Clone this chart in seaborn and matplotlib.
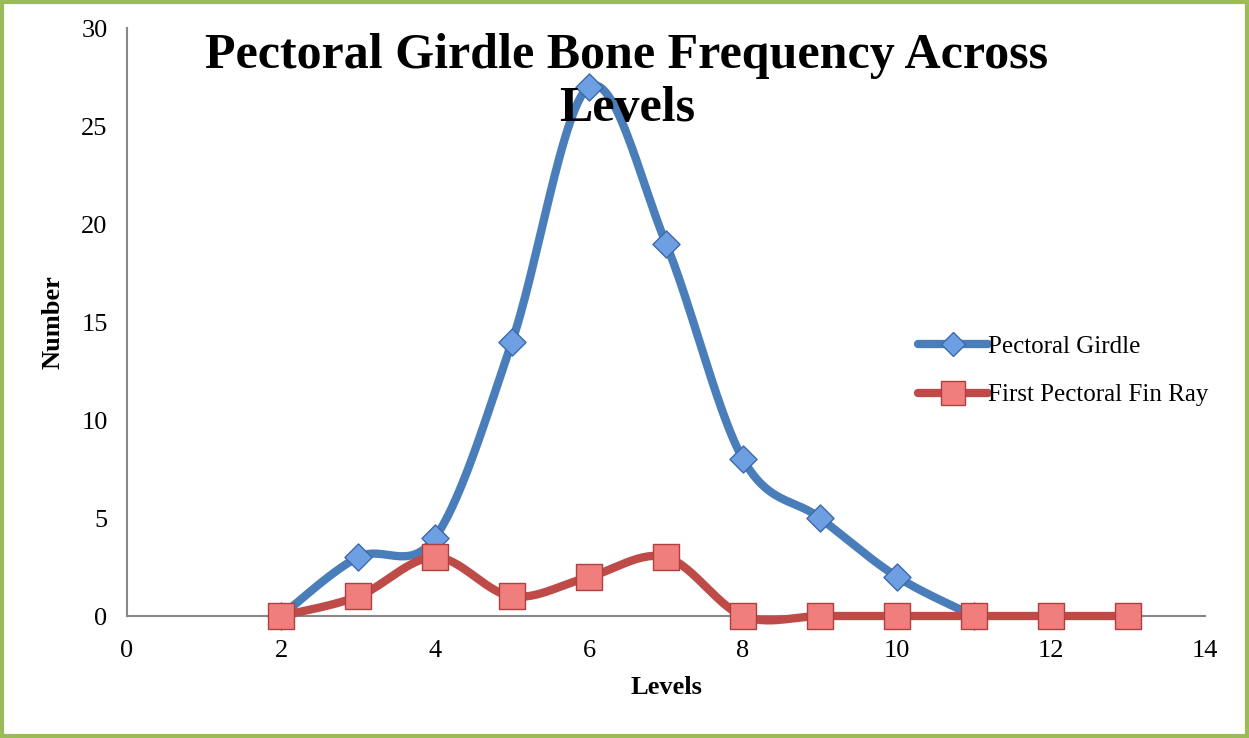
import numpy as np
import pandas as pd
import matplotlib
matplotlib.use("Agg")
import matplotlib.pyplot as plt
import seaborn as sns
from matplotlib.lines import Line2D
from matplotlib.patches import Rectangle

# data
girdle_levels = [2, 3, 4, 5, 6, 7, 8, 9, 10, 11]
girdle_counts = [0, 3, 4, 14, 27, 19, 8, 5, 2, 0]
finray_levels = [2, 3, 4, 5, 6, 7, 8, 9, 10, 11, 12, 13]
finray_counts = [0, 1, 3, 1, 2, 3, 0, 0, 0, 0, 0, 0]


# Excel-like smoothed line (bezier through every point)
def smooth(xs, ys, n=30):
    p = np.column_stack([xs, ys]).astype(float)
    p = np.vstack([p[0], p, p[-1]])
    out = []
    for i in range(1, len(p) - 2):
        p0, p1, p2, p3 = p[i - 1], p[i], p[i + 1], p[i + 2]
        c1 = p1 + (p2 - p0) / 6
        c2 = p2 - (p3 - p1) / 6
        t = np.linspace(0, 1, n)[:, None]
        seg = (1 - t) ** 3 * p1 + 3 * (1 - t) ** 2 * t * c1 + 3 * (1 - t) * t ** 2 * c2 + t ** 3 * p2
        out.append(seg if i == 1 else seg[1:])
    out = np.vstack(out)
    return pd.DataFrame({"x": out[:, 0], "y": out[:, 1]})


sns.set_style("white")
plt.rcParams["font.family"] = ["Liberation Serif", "DejaVu Serif"]
plt.rcParams["text.color"] = "black"
plt.rcParams["axes.labelcolor"] = "black"
plt.rcParams["xtick.labelcolor"] = "black"
plt.rcParams["ytick.labelcolor"] = "black"

fig = plt.figure(figsize=(12.49, 7.38), dpi=100)
ax = fig.add_axes([0.1017, 0.1653, 0.8631, 0.7967])

blue, blue_fill, blue_edge = "#4a7ebb", "#6f9fe3", "#3b6aa8"
red, red_fill, red_edge = "#be4b48", "#f07e7c", "#b0403d"

g = smooth(girdle_levels, girdle_counts)
f = smooth(finray_levels, finray_counts)
sns.lineplot(data=g, x="x", y="y", sort=False, color=blue, lw=6, ax=ax,
             solid_capstyle="round", zorder=2, clip_on=False)
sns.lineplot(data=f, x="x", y="y", sort=False, color=red, lw=6, ax=ax,
             solid_capstyle="round", zorder=3, clip_on=False)
sns.scatterplot(x=girdle_levels, y=girdle_counts, marker="D", s=190, color=blue_fill,
                edgecolor=blue_edge, linewidth=1, ax=ax, zorder=4, clip_on=False)
sns.scatterplot(x=finray_levels, y=finray_counts, marker="s", s=340, color=red_fill,
                edgecolor=red_edge, linewidth=1, ax=ax, zorder=5, clip_on=False)

ax.set_xlim(0, 14)
ax.set_ylim(0, 30)
ax.set_xticks(np.arange(0, 15, 2))
ax.set_yticks(np.arange(0, 31, 5))
for s in ["top", "right"]:
    ax.spines[s].set_visible(False)
for s in ["left", "bottom"]:
    ax.spines[s].set_color("#888888")
    ax.spines[s].set_linewidth(1.5)
ax.tick_params(axis="both", direction="out", length=7, width=1.5, color="#888888",
               labelsize=19)
ax.tick_params(axis="y", pad=7)
ax.tick_params(axis="x", pad=10)
ax.set_xlabel("Levels", fontsize=19, fontweight="bold", labelpad=10)
ax.set_ylabel("Number", fontsize=19, fontweight="bold", labelpad=12)

fig.text(0.502, 0.955, "Pectoral Girdle Bone Frequency Across\nLevels", ha="center",
         va="top", fontsize=36, fontweight="bold", linespacing=1.2)

handles = [
    Line2D([], [], color=blue, lw=6, marker="D", markersize=12, markerfacecolor=blue_fill,
           markeredgecolor=blue_edge, solid_capstyle="round"),
    Line2D([], [], color=red, lw=6, marker="s", markersize=17, markerfacecolor=red_fill,
           markeredgecolor=red_edge, solid_capstyle="round"),
]
ax.legend(handles, ["Pectoral Girdle", "First Pectoral Fin Ray"], loc="center left",
          bbox_to_anchor=(0.713, 0.417), frameon=False, fontsize=18, handlelength=2.8,
          handletextpad=0.0, labelspacing=1.05)

fig.patches.append(Rectangle((0.002, 0.003), 0.996, 0.994, transform=fig.transFigure,
                             fill=False, edgecolor="#9bbb59", linewidth=3))

fig.savefig("out.png", dpi=100)
